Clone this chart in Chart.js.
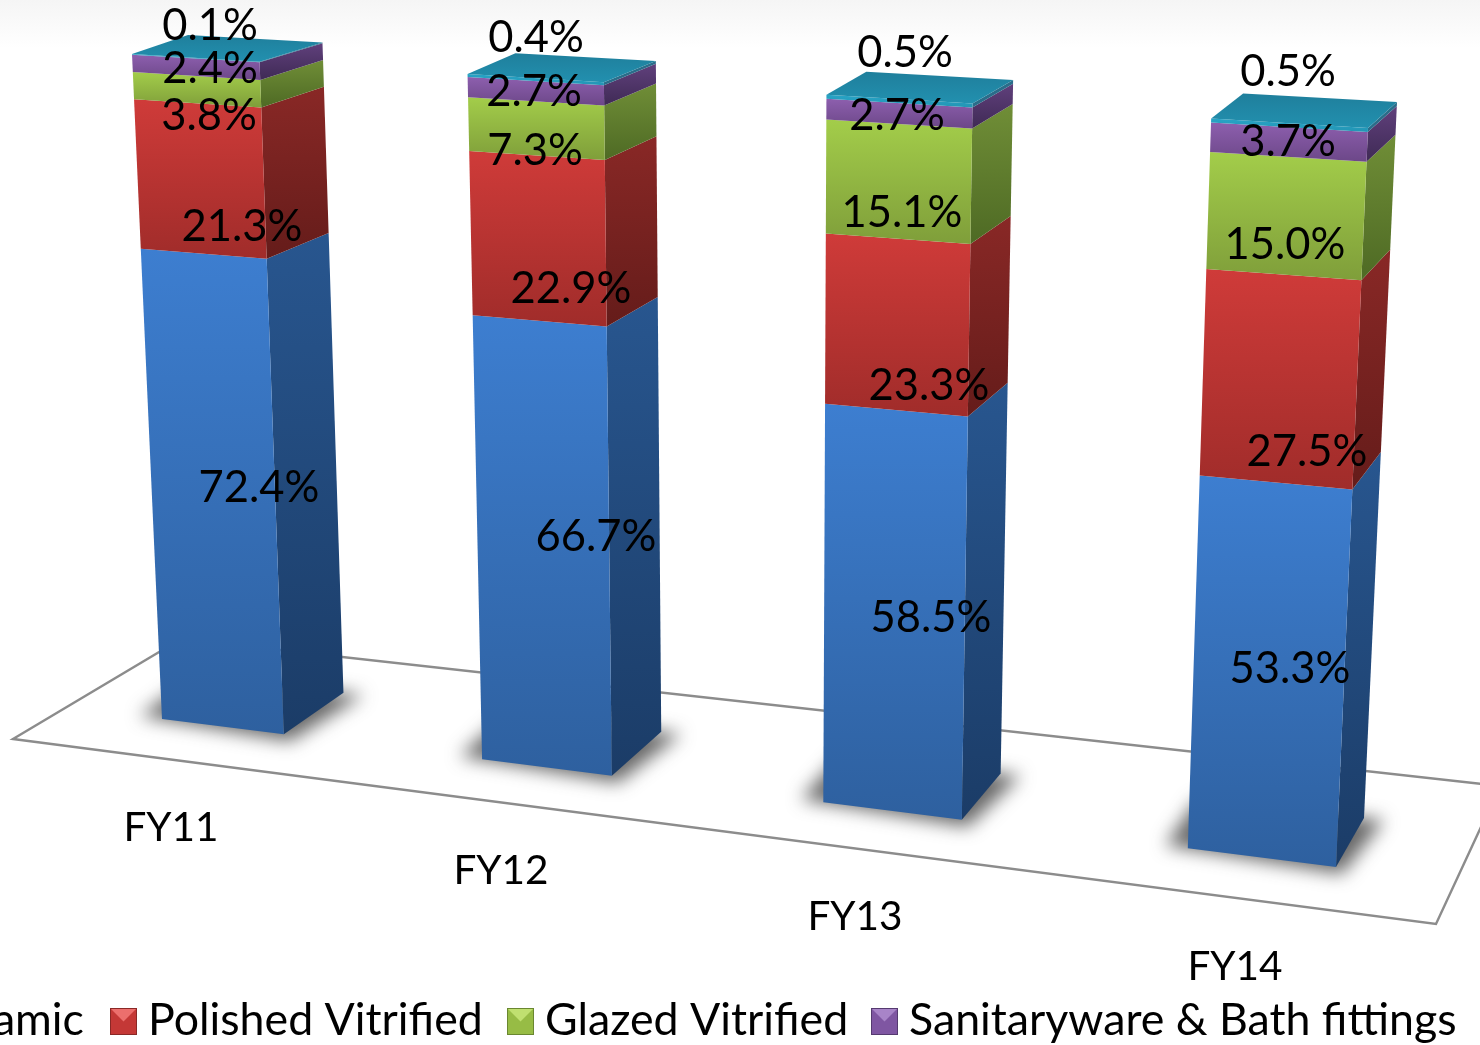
<!DOCTYPE html>
<html>
<head>
<meta charset="utf-8">
<title>Product mix FY11-FY14</title>
<script src="https://cdn.jsdelivr.net/npm/chart.js@4"></script>
<style>
  html, body { margin: 0; padding: 0; background: linear-gradient(#f5f5f5, #ffffff 48px) no-repeat #fff; overflow: hidden; }
  #wrap { position: relative; width: 1480px; height: 1045px; }
</style>
</head>
<body>
<div id="wrap"><canvas id="mixChart" width="1480" height="1045"></canvas></div>
<script>
// Chart data
const categories = ['FY11', 'FY12', 'FY13', 'FY14'];
const ceramic = [72.4, 66.7, 58.5, 53.3];
const polishedVitrified = [21.3, 22.9, 23.3, 27.5];
const glazedVitrified = [3.8, 7.3, 15.1, 15.0];
const sanitaryware = [2.4, 2.7, 2.7, 3.7];
const others = [0.1, 0.4, 0.5, 0.5];

// Face colours per series: front top/bottom, side top/bottom
const faces = [
    { front: ['#3d7ed0', '#2e609f'], side: ['#28568f', '#1b3c67'], swatch: ['#5b94dc', '#3a74bd', '#24508a'] },
    { front: ['#cf3b39', '#a02c2a'], side: ['#892826', '#651c1a'], swatch: ['#ec6f6d', '#c43836', '#8a2826'] },
    { front: ['#a3cd4a', '#7f9e3a'], side: ['#708e37', '#4e6a24'], swatch: ['#c0e070', '#97bc45', '#6a8730'] },
    { front: ['#8d5fae', '#6c4788'], side: ['#60407c', '#3f2a55'], swatch: ['#a884c8', '#7f56a2', '#553a70'] },
    { front: ['#28a4c6', '#2395b4'], side: ['#2a6d8a', '#2a6d8a'], swatch: ['#4fbcd8', '#2a95b4', '#1c6c84'] }
];
const topFaceColor = ['#1f7f9c', '#2290af'];

// Where the picture plane puts the outer corners of the bar row
// order: left-bottom, right-bottom, right-top, left-top
const frontPlane = [[162, 719], [1336, 867], [1368, 128], [132, 54]];
const backPlane = [[215, 677], [1364, 818], [1397, 102], [188, 35]];
const floorOutline = [[13, 739], [1436, 924], [1500, 786], [181, 639]];
const backWiden = 0.0103;   // back right edges sit a little further out than the plane gives
const foreshorten = 0.035;  // extra vertical perspective, top of the bars is nearer

// Text placement (centres)
const tickAnchors = [[171, 828], [501, 871], [855, 917], [1235, 967]];
const labelAnchors = [
    [[259, 488], [596, 537], [931, 618], [1290, 669]],
    [[242, 227], [571, 289], [929, 386], [1307, 452]],
    [[209, 116], [535, 151], [902, 213], [1285, 245]],
    [[210, 69], [534, 92], [897, 116], [1288, 142]],
    [[210, 26], [536, 38], [905, 53], [1288, 72]]
];
const legendSwatchX = [-114, 110, 507, 871];
const legendY = 1021;
const LABEL_FONT = '43.5px Lato, "Open Sans", sans-serif';
const TICK_FONT = '40.5px Lato, "Open Sans", sans-serif';
const LEGEND_FONT = '44.7px Lato, "Open Sans", sans-serif';

// unit square -> quad (Heckbert)
function makeHomography(q) {
    const [[x0, y0], [x1, y1], [x2, y2], [x3, y3]] = q;
    const dx1 = x1 - x2, dx2 = x3 - x2, sx = x0 - x1 + x2 - x3;
    const dy1 = y1 - y2, dy2 = y3 - y2, sy = y0 - y1 + y2 - y3;
    const den = dx1 * dy2 - dx2 * dy1;
    const g = (sx * dy2 - dx2 * sy) / den;
    const h = (dx1 * sy - sx * dy1) / den;
    const a = x1 - x0 + g * x1, b = x3 - x0 + h * x3;
    const d = y1 - y0 + g * y1, e = y3 - y0 + h * y3;
    return (u, v) => {
        const w = g * u + h * v + 1;
        return [(a * u + b * v + x0) / w, (d * u + e * v + y0) / w];
    };
}
const toFront = makeHomography(frontPlane);
const toBack = makeHomography(backPlane);
const backRightU = u => u + backWiden * (1 - u);

function quad(ctx, pts, fill) {
    ctx.beginPath();
    pts.forEach((p, i) => i ? ctx.lineTo(p[0], p[1]) : ctx.moveTo(p[0], p[1]));
    ctx.closePath();
    ctx.fillStyle = fill;
    ctx.fill();
}

function vGradient(ctx, pts, colors) {
    const ys = pts.map(p => p[1]);
    const g = ctx.createLinearGradient(0, Math.min(...ys), 0, Math.max(...ys));
    g.addColorStop(0, colors[0]);
    g.addColorStop(1, colors[1]);
    return g;
}

// Draws the stacked bars from the bar elements Chart.js laid out
const bars3d = {
    id: 'bars3d',
    beforeDatasetsDraw() {
        return false; // flat rectangles are replaced in afterDraw
    },
    afterDraw(chart) {
        const ctx = chart.ctx;
        const metas = chart.data.datasets.map((_, i) => chart.getDatasetMeta(i));
        const yScale = chart.scales.y;
        const first = metas[0].data[0], last = metas[0].data[categories.length - 1];
        const left = first.x - first.width / 2, right = last.x + last.width / 2;
        const uOf = x => (x - left) / (right - left);
        const vOf = y => {
            const v = (yScale.bottom - y) / (yScale.bottom - yScale.top);
            return v / (1 + foreshorten * (1 - v));
        };

        ctx.save();

        // floor
        ctx.beginPath();
        floorOutline.forEach((p, i) => i ? ctx.lineTo(p[0], p[1]) : ctx.moveTo(p[0], p[1]));
        ctx.closePath();
        ctx.strokeStyle = '#8c8c8c';
        ctx.lineWidth = 2.4;
        ctx.stroke();

        // soft shadows on the floor
        categories.forEach((_, c) => {
            const el = metas[0].data[c];
            const u0 = uOf(el.x - el.width / 2), u1 = uOf(el.x + el.width / 2);
            const fl = toFront(u0, 0), fr = toFront(u1, 0);
            const br = toBack(backRightU(u1), 0), bl = toBack(u0, 0);
            ctx.save();
            ctx.filter = 'blur(9px)';
            quad(ctx, [[fl[0] - 22, fl[1] - 3], [fr[0] + 6, fr[1] + 7], [br[0] + 20, br[1] + 2], [bl[0] - 22, bl[1]]], 'rgba(45,45,45,0.72)');
            ctx.restore();
        });

        // bars, bottom segment first
        categories.forEach((_, c) => {
            metas.forEach((meta, s) => {
                const el = meta.data[c];
                const u0 = uOf(el.x - el.width / 2), u1 = uOf(el.x + el.width / 2);
                const vBase = vOf(el.base), vTop = vOf(el.y);
                const uBack = backRightU(u1);
                const front = [toFront(u0, vTop), toFront(u1, vTop), toFront(u1, vBase), toFront(u0, vBase)];
                const side = [toFront(u1, vTop), toBack(uBack, vTop), toBack(uBack, vBase), toFront(u1, vBase)];
                quad(ctx, side, vGradient(ctx, side, faces[s].side));
                quad(ctx, front, vGradient(ctx, front, faces[s].front));
                if (s === metas.length - 1) {
                    const cap = [toFront(u0, vTop), toFront(u1, vTop), toBack(uBack, vTop), toBack(u0, vTop)];
                    quad(ctx, cap, vGradient(ctx, cap, topFaceColor));
                }
            });
        });

        // value labels
        ctx.fillStyle = '#000';
        ctx.font = LABEL_FONT;
        ctx.textAlign = 'center';
        ctx.textBaseline = 'middle';
        chart.data.datasets.forEach((ds, s) => {
            ds.data.forEach((val, c) => {
                const a = labelAnchors[s][c];
                ctx.fillText(val.toFixed(1) + '%', a[0], a[1]);
            });
        });

        // category labels
        ctx.font = TICK_FONT;
        chart.data.labels.forEach((label, c) => {
            ctx.fillText(label, tickAnchors[c][0], tickAnchors[c][1]);
        });

        // legend, runs off the canvas on both sides like the source slide
        ctx.font = LEGEND_FONT;
        ctx.textAlign = 'left';
        legendSwatchX.forEach((x, s) => {
            const size = 27, y = legendY - 13;
            const sw = faces[s].swatch;
            ctx.fillStyle = sw[2];
            ctx.fillRect(x, y, size, size);
            ctx.fillStyle = sw[1];
            ctx.fillRect(x + 1, y + 1, size - 2, size - 2);
            quad(ctx, [[x + 1, y + 1], [x + size - 1, y + 1], [x + size / 2, y + size / 2]], sw[0]);
            ctx.fillStyle = '#000';
            ctx.fillText(chart.data.datasets[s].label, x + size + 11, legendY);
        });

        ctx.restore();
    }
};

const seriesNames = ['Ceramic', 'Polished Vitrified', 'Glazed Vitrified', 'Sanitaryware & Bath fittings', 'Others'];
const seriesValues = [ceramic, polishedVitrified, glazedVitrified, sanitaryware, others];

new Chart(document.getElementById('mixChart').getContext('2d'), {
    type: 'bar',
    data: {
        labels: categories,
        datasets: seriesValues.map((vals, i) => ({
            label: seriesNames[i],
            data: vals,
            backgroundColor: faces[i].front[0],
            categoryPercentage: 1,
            barPercentage: 0.388
        }))
    },
    options: {
        responsive: false,
        animation: false,
        plugins: {
            legend: { display: false },
            tooltip: { enabled: false }
        },
        scales: {
            x: { stacked: true, display: false },
            y: { stacked: true, display: false, min: 0, max: 100 }
        }
    },
    plugins: [bars3d]
});
</script>
</body>
</html>
